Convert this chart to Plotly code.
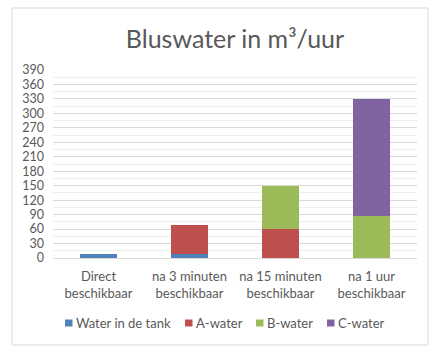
import plotly.graph_objects as go

categories = ["Direct<br>beschikbaar", "na 3 minuten<br>beschikbaar",
              "na 15 minuten<br>beschikbaar", "na 1 uur<br>beschikbaar"]
tank = [8, 8, 0, 0]
a_water = [0, 60, 60, 0]
b_water = [0, 0, 90, 88]
c_water = [0, 0, 0, 242]
series = [("Water in de tank", tank, "#4f81bd"),
          ("A-water", a_water, "#c0504d"),
          ("B-water", b_water, "#9bbb59"),
          ("C-water", c_water, "#8064a2")]
yticks = list(range(0, 391, 30))

fig = go.Figure()
for name, vals, col in series:
    fig.add_trace(go.Bar(x=categories, y=vals, name=name, showlegend=False,
                         marker=dict(color=col, line=dict(width=0))))

W, H = 438, 352
L, R, T, B = 53, 21, 70, 94
pw, ph = W - L - R, H - T - B

def px2paper_x(px):
    return (px - L) / pw

def px2paper_y(py):
    return (H - B - py) / ph

fig.update_layout(
    width=W, height=H, barmode="stack", bargap=0.6,
    margin=dict(l=L, r=R, t=T, b=B, autoexpand=False),
    paper_bgcolor="white", plot_bgcolor="white",
    font=dict(family="Lato, Open Sans, sans-serif", color="#595959", size=12),
    title=dict(text="Bluswater in m³/uur", x=0.5, xref="paper", xanchor="center",
               y=1 - 39 / H, yanchor="middle", yref="container",
               font=dict(size=25, color="#595959")),
    showlegend=False,
)
fig.update_xaxes(showline=True, linecolor="#d9d9d9", ticks="", tickfont=dict(size=13, color="#595959"),
                 showgrid=False, ticklabelstandoff=6)
fig.update_yaxes(range=[0, 390], tickvals=yticks, showgrid=True, gridcolor="#d9d9d9", gridwidth=1,
                 zeroline=False, ticks="", tickfont=dict(size=12.5, color="#595959"),
                 ticklabelstandoff=8,
                 minor=dict(dtick=15, showgrid=True, gridcolor="#eeeeee", gridwidth=1))
fig.add_shape(type="rect", xref="paper", yref="paper",
              x0=px2paper_x(12), x1=px2paper_x(428), y0=px2paper_y(345), y1=px2paper_y(8),
              line=dict(color="#d9d9d9", width=1), fillcolor="rgba(0,0,0,0)", layer="below")

# legend (manual, to match compact spacing)
legend_x = [65, 185, 256, 327]
legend_y = 323
for (name, _, col), lx in zip(series, legend_x):
    fig.add_shape(type="rect", xref="paper", yref="paper",
                  x0=px2paper_x(lx), x1=px2paper_x(lx + 7.5),
                  y0=px2paper_y(legend_y + 3.5), y1=px2paper_y(legend_y - 3.5),
                  line=dict(width=0), fillcolor=col)
    fig.add_annotation(text=name, xref="paper", yref="paper", x=px2paper_x(lx + 9),
                       y=px2paper_y(legend_y), xanchor="left", yanchor="middle", showarrow=False,
                       font=dict(size=13, color="#595959"))
fig.write_html("out.html")
